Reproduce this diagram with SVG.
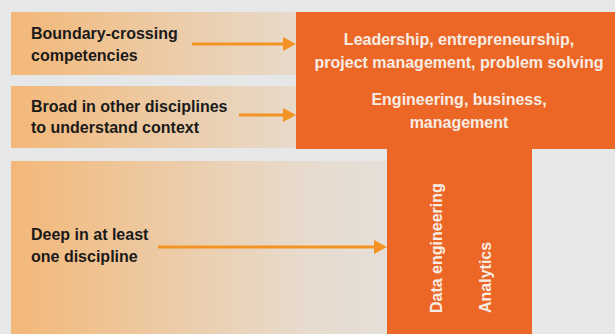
<svg xmlns="http://www.w3.org/2000/svg" width="615" height="334" viewBox="0 0 615 334">
<defs>
<style>
.lbl{font-family:"Liberation Sans",Arial,sans-serif;font-weight:bold;font-size:16px;fill:#1a1a1a}
.wt{font-family:"Liberation Sans",Arial,sans-serif;font-weight:bold;font-size:16px;fill:#f7ece4;text-anchor:middle}
.vt{font-family:"Liberation Sans",Arial,sans-serif;font-weight:bold;font-size:16px;fill:#f7ece4}
.arr{stroke:#f39323;stroke-width:3;fill:none}
.head{fill:#f39323}
.org{fill:#ec6726}
</style>
<linearGradient id="g" gradientUnits="userSpaceOnUse" x1="11" y1="0" x2="400" y2="0">
<stop offset="0" stop-color="#f3b878"/>
<stop offset="0.75" stop-color="#e7dbcd"/>
<stop offset="1" stop-color="#e5e0da"/>
</linearGradient>
</defs>
<rect width="615" height="334" fill="#e6e7e9"/>
<g id="band-boundary">
<rect x="11" y="12" width="290" height="63" fill="url(#g)"/>
<text class="lbl" x="31" y="39">Boundary-crossing</text>
<text class="lbl" x="31" y="61">competencies</text>
</g>
<g id="band-broad">
<rect x="11" y="86" width="290" height="62" fill="url(#g)"/>
<text class="lbl" x="31" y="112">Broad in other disciplines</text>
<text class="lbl" x="31" y="133">to understand context</text>
</g>
<g id="band-deep">
<rect x="11" y="161" width="380" height="173" fill="url(#g)"/>
<text class="lbl" x="31" y="240">Deep in at least</text>
<text class="lbl" x="31" y="262">one discipline</text>
</g>
<g id="t-top">
<rect class="org" x="296" y="12" width="319" height="137"/>
<text class="wt" x="459" y="45">Leadership, entrepreneurship,</text>
<text class="wt" x="459" y="68">project management, problem solving</text>
<text class="wt" x="459" y="105">Engineering, business,</text>
<text class="wt" x="459" y="128">management</text>
</g>
<g id="t-stem">
<rect class="org" x="387" y="148" width="145" height="186"/>
<text class="vt" transform="translate(442,313) rotate(-90)">Data engineering</text>
<text class="vt" transform="translate(491,313) rotate(-90)">Analytics</text>
</g>
<g id="connectors">
<line class="arr" x1="192" y1="44" x2="284" y2="44"/>
<polygon class="head" points="283,37 296,44 283,51"/>
<line class="arr" x1="239" y1="115" x2="284" y2="115"/>
<polygon class="head" points="283,108 296,115 283,122"/>
<line class="arr" x1="158" y1="247" x2="375" y2="247"/>
<polygon class="head" points="374,240 387,247 374,254"/>
</g>
</svg>
